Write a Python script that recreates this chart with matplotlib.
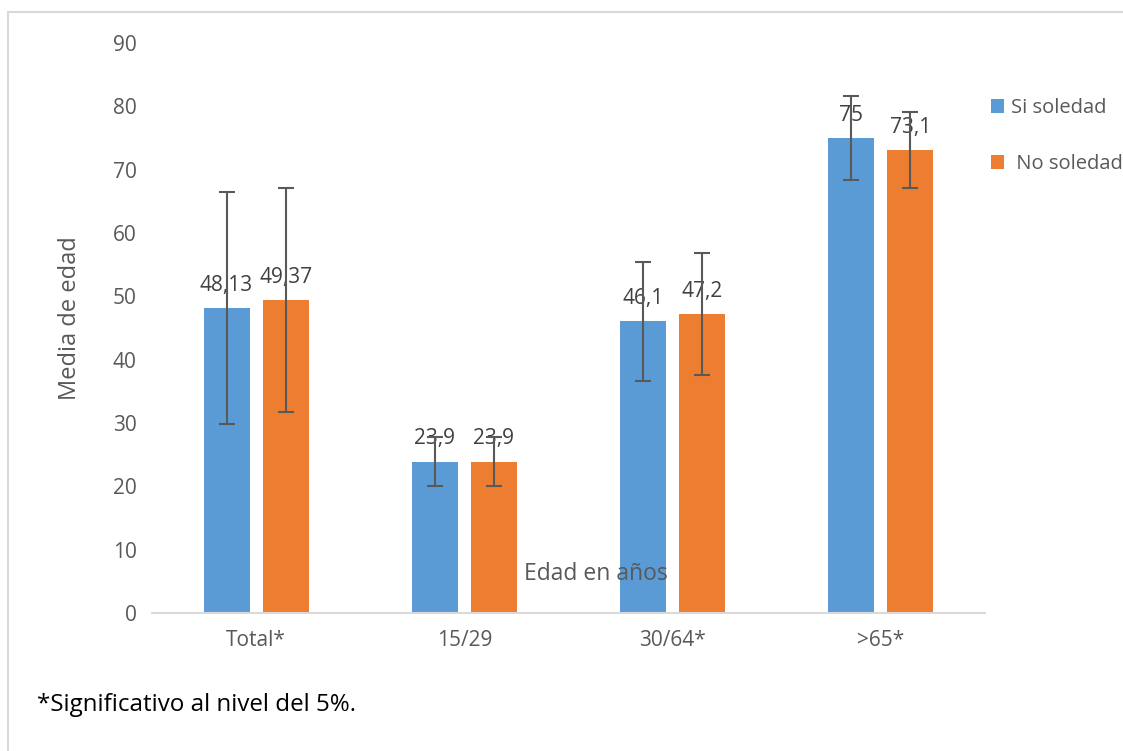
import matplotlib
matplotlib.use("Agg")
import matplotlib.pyplot as plt
from matplotlib.patches import Rectangle
import numpy as np

plt.rcParams["font.family"] = ["Open Sans", "DejaVu Sans"]

categories = ["Total*", "15/29", "30/64*", ">65*"]
si_values = [48.13, 23.9, 46.1, 75.0]
no_values = [49.37, 23.9, 47.2, 73.1]
si_err = [18.3, 3.9, 9.4, 6.6]
no_err = [17.7, 3.9, 9.6, 6.0]
si_labels = ["48,13", "23,9", "46,1", "75"]
no_labels = ["49,37", "23,9", "47,2", "73,1"]

BLUE = "#5b9bd5"
ORANGE = "#ed7d31"
GREY = "#595959"

fig = plt.figure(figsize=(11.23, 7.51), dpi=100)
ax = fig.add_axes([152 / 1123, 1 - 613 / 751, (985 - 152) / 1123, (613 - 43) / 751])

x = np.arange(len(categories))
w = 0.221
off = 0.142
err_kw = dict(ecolor=GREY, elinewidth=1.5, capsize=6, capthick=1.5)
b1 = ax.bar(x - off, si_values, w, color=BLUE, yerr=si_err, error_kw=err_kw, label="Si soledad", zorder=2)
b2 = ax.bar(x + off, no_values, w, color=ORANGE, yerr=no_err, error_kw=err_kw, label=" No soledad", zorder=2)

for bars, labels in ((b1, si_labels), (b2, no_labels)):
    for rect, lab in zip(bars, labels):
        ax.annotate(lab, (rect.get_x() + rect.get_width() / 2, rect.get_height()),
                    xytext=(0, 9), textcoords="offset points", ha="center", va="bottom",
                    fontsize=15, color="#404040", zorder=1)

ax.set_xlim(-0.5, 3.5)
ax.set_ylim(0, 90)
ax.set_yticks(range(0, 91, 10))
ax.set_xticks(x)
ax.set_xticklabels(categories)
ax.tick_params(axis="both", length=0, labelsize=15, colors=GREY)
ax.tick_params(axis="x", pad=12)
ax.tick_params(axis="y", pad=11)
for s in ["top", "right", "left"]:
    ax.spines[s].set_visible(False)
ax.spines["bottom"].set_color("#d9d9d9")
ax.spines["bottom"].set_linewidth(1.5)

ax.set_ylabel("Media de edad", fontsize=17, color=GREY)
ax.yaxis.set_label_coords(-0.084, 0.5175)

fig.text(596 / 1123, 1 - 574 / 751, "Edad en años", ha="center", va="center",
         fontsize=16.5, color=GREY)
fig.text(37 / 1123, 1 - 705 / 751, "*Significativo al nivel del 5%.", ha="left",
         va="center", fontsize=17.4, color="black")

ax.legend(loc="upper left", bbox_to_anchor=(991 / 1123, 1 - 98 / 751),
          bbox_transform=fig.transFigure, frameon=False, fontsize=14.5,
          labelcolor=GREY, handlelength=0.65, handleheight=0.65,
          handletextpad=0.35, labelspacing=1.8, borderaxespad=0, borderpad=0)

fig.patches.append(Rectangle((8 / 1123, -0.1), 1.2, 1 - 12 / 751 + 0.1,
                             transform=fig.transFigure, fill=False,
                             edgecolor="#d9d9d9", linewidth=1.5))

fig.savefig("out.png", dpi=100)
